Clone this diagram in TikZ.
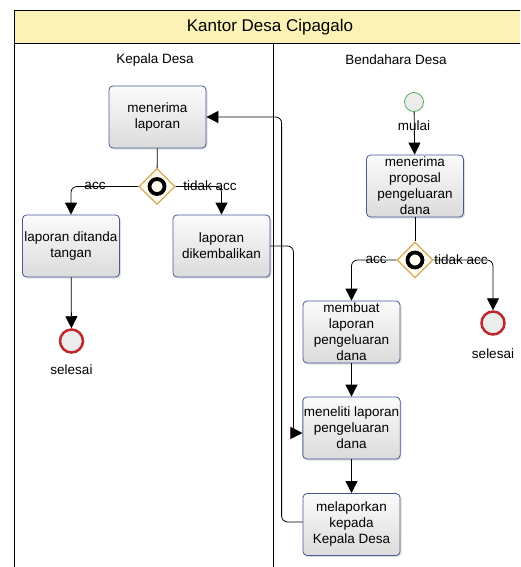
\documentclass[tikz,border=0pt]{standalone}
\usepackage{fontspec}
\setmainfont{Liberation Sans}
\usetikzlibrary{arrows.meta,shapes.geometric,shadows}
\definecolor{laneyellow}{RGB}{252,242,182}
\definecolor{taskblue}{RGB}{70,90,150}
\definecolor{gategold}{RGB}{214,170,90}
\definecolor{startgreen}{RGB}{90,170,100}
\definecolor{endred}{RGB}{190,40,45}
\tikzset{
  task/.style={draw=taskblue, line width=0.8pt, rounded corners=4pt, top color=gray!3, bottom color=gray!28,
    minimum width=97pt, minimum height=62pt, align=center, inner sep=1pt,
    font=\fontsize{13.5}{16}\selectfont,
    drop shadow={opacity=0.25, shadow xshift=1.5pt, shadow yshift=-1.5pt}},
  gateway/.style={diamond, draw=gategold, line width=1.2pt, fill=yellow!6, minimum size=36pt, inner sep=0pt},
  startev/.style={circle, draw=startgreen, line width=0.8pt, fill=gray!15, minimum size=19pt, inner sep=0pt},
  endev/.style={circle, draw=endred, line width=2.5pt, fill=gray!15, minimum size=23pt, inner sep=0pt},
  lbl/.style={font=\fontsize{13.5}{16}\selectfont, inner sep=0pt},
  link/.style={draw, line width=0.8pt, rounded corners=6pt},
  flow/.style={link, -{Triangle[length=12pt,width=12pt]}},
}
\begin{document}
\begin{tikzpicture}[x=1pt,y=-1pt]
\useasboundingbox (0,0) rectangle (520,567);
\clip (0,0) rectangle (520,567);
\fill[laneyellow] (14,10) rectangle (524,43);
\draw[line width=0.8pt] (14,10) rectangle (524,575);
\draw[line width=0.8pt] (14,43) -- (524,43);
\draw[line width=0.8pt] (273,43) -- (273,575);
\node[inner sep=0pt] (pool) at (270,27) {\fontsize{17}{20}\selectfont Kantor Desa Cipagalo};
\node[lbl] (lane1) at (155,60) {Kepala Desa};
\node[lbl] (lane2) at (396,60) {Bendahara Desa};

\node[task] (terima) at (157.5,117) {menerima\\laporan};
\node[gateway] (g1) at (157,186.5) {};
\draw[line width=3.8pt] (g1) circle (7.5);
\node[task] (ttd) at (71,246) {laporan ditanda\\tangan};
\node[task] (kembali) at (221.5,246) {laporan\\dikembalikan};
\node[endev] (end1) at (71.5,341) {};
\node[lbl] (sel1) at (71.5,370) {selesai};

\node[startev] (start) at (414,102) {};
\node[lbl] (mulai) at (414,126) {mulai};
\node[task] (proposal) at (415,186) {menerima\\proposal\\pengeluaran\\dana};
\node[gateway] (g2) at (415,260) {};
\draw[line width=3.8pt] (g2) circle (7.5);
\node[endev] (end2) at (493,323) {};
\node[lbl] (sel2) at (493,354) {selesai};
\node[task] (buat) at (351.5,332) {membuat\\laporan\\pengeluaran\\dana};
\node[task] (teliti) at (351.5,428) {meneliti laporan\\pengeluaran\\dana};
\node[task] (lapor) at (351.5,524.5) {melaporkan\\kepada\\Kepala Desa};

\draw[link] (terima) -- (g1);
\draw[flow] (g1.west) -| (ttd.north);
\draw[flow] (g1.east) -| (kembali.north);
\node[lbl] (acc1) at (95,186) {acc};
\node[lbl] (tacc1) at (210,186) {tidak acc};
\draw[flow] (ttd) -- (end1);
\draw[flow] (kembali.east) -- ++(23,0) |- ([yshift=-5pt]teliti.west);
\draw[flow] ([yshift=2.5pt]lapor.west) -- ++(-21,0) |- (terima.east);

\draw[flow] (start) -- (proposal);
\draw[link] (proposal) -- (g2);
\draw[flow] (g2.west) -| (buat.north);
\draw[flow] (g2.east) -| (end2.north);
\node[lbl] (acc2) at (376,260) {acc};
\node[lbl] (tacc2) at (461,260) {tidak acc};
\draw[flow] (buat) -- (teliti);
\draw[flow] (teliti) -- (lapor);
\end{tikzpicture}
\end{document}
